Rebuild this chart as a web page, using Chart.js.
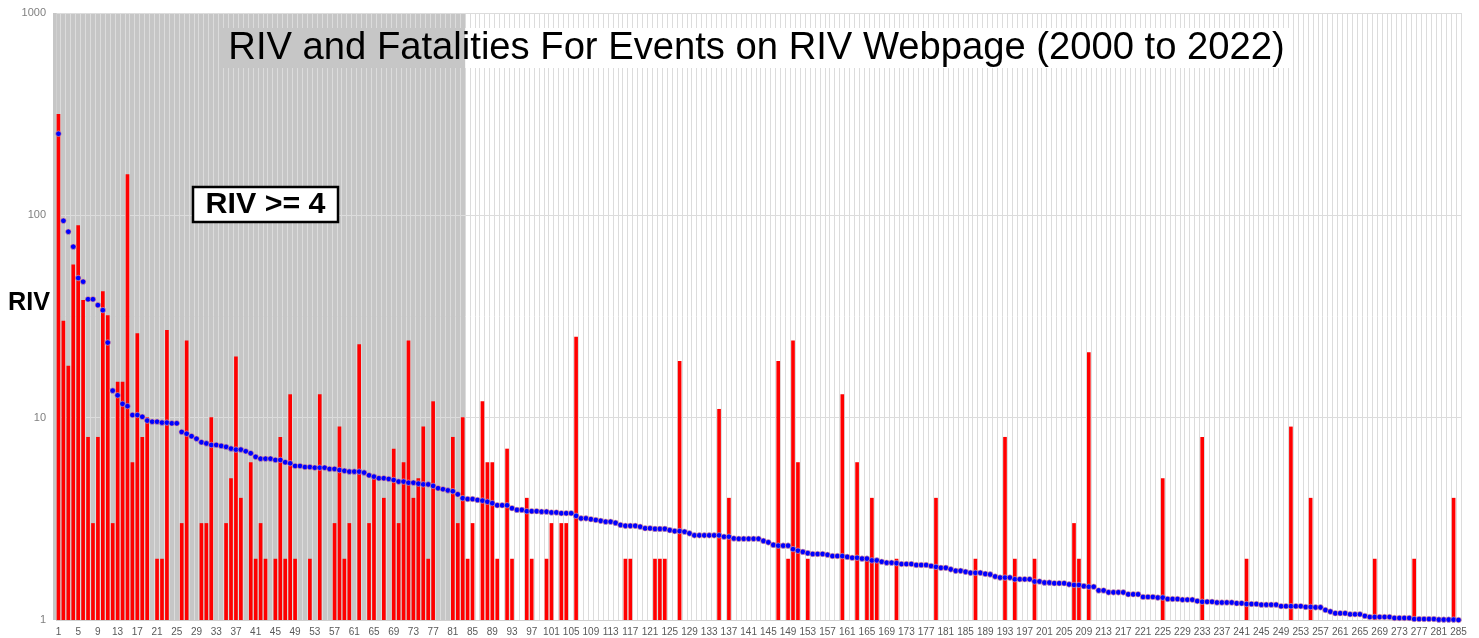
<!DOCTYPE html>
<html><head><meta charset="utf-8">
<script src="https://cdn.jsdelivr.net/npm/chart.js@4/dist/chart.umd.min.js"></script>
<style>html,body{margin:0;padding:0;background:#fff;overflow:hidden}</style>
</head><body>
<canvas id="c" width="1479" height="638" style="width:1479px;height:638px;display:block"></canvas>
<script>
const categories = Array.from({length: 285}, (_, i) => String(i + 1));
const xTickEvery = 4;
const yTickValues = [1, 10, 100, 1000];

const riv = [
253,94,83,70,49,47,38.5,38.5,36,34,
23.5,13.6,12.9,11.7,11.4,10.3,10.3,10.1,9.67,9.55,
9.55,9.45,9.45,9.38,9.38,8.5,8.33,8.1,7.87,7.56,
7.46,7.33,7.33,7.25,7.17,7.03,6.95,6.95,6.82,6.67,
6.4,6.27,6.27,6.27,6.18,6.18,6.02,5.95,5.77,5.77,
5.7,5.7,5.66,5.66,5.66,5.58,5.58,5.51,5.46,5.41,
5.41,5.41,5.35,5.19,5.11,5.02,5.02,4.98,4.92,4.83,
4.83,4.77,4.77,4.72,4.68,4.68,4.6,4.48,4.43,4.37,
4.33,4.18,4.0,3.96,3.96,3.92,3.89,3.84,3.78,3.69,
3.69,3.69,3.57,3.5,3.5,3.45,3.45,3.45,3.43,3.43,
3.4,3.4,3.37,3.37,3.37,3.27,3.18,3.18,3.15,3.12,
3.09,3.06,3.06,3.02,2.95,2.92,2.92,2.92,2.89,2.84,
2.84,2.82,2.82,2.82,2.78,2.75,2.75,2.73,2.68,2.62,
2.62,2.62,2.62,2.62,2.62,2.58,2.58,2.53,2.52,2.52,
2.52,2.52,2.52,2.46,2.42,2.35,2.33,2.33,2.33,2.24,
2.2,2.17,2.14,2.12,2.12,2.12,2.1,2.07,2.07,2.07,
2.05,2.03,2.03,2.01,2.01,1.97,1.97,1.94,1.92,1.92,
1.91,1.89,1.89,1.89,1.87,1.87,1.87,1.85,1.83,1.81,
1.81,1.78,1.75,1.75,1.73,1.71,1.71,1.71,1.69,1.68,
1.64,1.62,1.62,1.62,1.59,1.59,1.59,1.59,1.55,1.55,
1.53,1.53,1.52,1.52,1.52,1.5,1.49,1.49,1.47,1.46,
1.46,1.4,1.4,1.37,1.37,1.37,1.37,1.34,1.34,1.34,
1.3,1.3,1.3,1.29,1.29,1.27,1.27,1.27,1.26,1.26,
1.26,1.24,1.23,1.23,1.23,1.22,1.22,1.22,1.22,1.21,
1.21,1.2,1.2,1.2,1.19,1.19,1.19,1.19,1.17,1.17,
1.17,1.17,1.17,1.16,1.16,1.155,1.155,1.12,1.1,1.08,
1.08,1.08,1.067,1.067,1.067,1.047,1.035,1.035,1.035,1.035,
1.035,1.023,1.023,1.023,1.023,1.011,1.011,1.011,1.011,1.011,
1.004,1.004,1.004,1.004,1.0
];

const n = null;
const fatalities = [
316,30,18,57,89,38,8,3,8,42,
32,3,15,15,159,6,26,8,10,n,
2,2,27,n,n,3,24,n,n,3,
3,10,n,n,3,5,20,4,n,6,
2,3,2,n,2,8,2,13,2,n,
n,2,n,13,n,n,3,9,2,3,
n,23,n,3,5,n,4,n,7,3,
6,24,4,5,9,2,12,n,n,n,
8,3,10,2,3,n,12,6,6,2,
n,7,2,n,n,4,2,n,n,2,
3,n,3,3,n,25,n,n,n,n,
n,n,n,n,n,2,2,n,n,n,
n,2,2,2,n,n,19,n,n,n,
n,n,n,n,11,n,4,n,n,n,
n,n,n,n,n,n,19,n,2,24,
6,n,2,n,n,n,n,n,n,13,
n,n,6,n,2,4,2,n,n,n,
2,n,n,n,n,n,n,n,4,n,
n,n,n,n,n,n,2,n,n,n,
n,n,8,n,2,n,n,n,2,n,
n,n,n,n,n,n,3,2,n,21,
n,n,n,n,n,n,n,n,n,n,
n,n,n,n,5,n,n,n,n,n,
n,n,8,n,n,n,n,n,n,n,
n,2,n,n,n,n,n,n,n,n,
9,n,n,n,4,n,n,n,n,n,
n,n,n,n,n,n,n,2,n,n,
n,n,n,n,n,2,n,n,n,n,
n,n,n,4,n
];

const shadedLastCategory = 83;
const titleText = 'RIV and Fatalities For Events on RIV Webpage (2000 to 2022)';
const boxText = 'RIV >= 4';
const yAxisText = 'RIV';
const FONT = '"Liberation Sans", Arial, sans-serif';

function fitFont(ctx, text, weight, targetW, base) {
  ctx.font = weight + ' ' + base + 'px ' + FONT;
  const w = ctx.measureText(text).width;
  return base * targetW / w;
}

const decor = {
  id: 'decor',
  beforeDraw(chart) {
    const {ctx, chartArea: a, scales: {x}} = chart;
    ctx.save();
    ctx.fillStyle = '#ffffff';
    ctx.fillRect(0, 0, chart.width, chart.height);
    const half = (x.getPixelForValue(1) - x.getPixelForValue(0)) / 2;
    const right = x.getPixelForValue(shadedLastCategory - 1) + half;
    ctx.fillStyle = '#c6c6c6';
    ctx.fillRect(a.left - 3, a.top, right - (a.left - 3), a.bottom - a.top);
    ctx.restore();
  },
  beforeDatasetsDraw(chart) {
    const {ctx, scales: {x}} = chart;
    const half = (x.getPixelForValue(1) - x.getPixelForValue(0)) / 2;
    const right = x.getPixelForValue(shadedLastCategory - 1) + half;
    ctx.save();
    ctx.fillStyle = '#ffffff';
    ctx.fillRect(222, 28, 1292 - 222, 40);
    ctx.fillStyle = '#c6c6c6';
    ctx.fillRect(222, 28, right - 222, 40);
    ctx.restore();
  },
  afterDraw(chart) {
    const ctx = chart.ctx;
    ctx.save();
    let fs = fitFont(ctx, titleText, 'normal', 1057, 35);
    ctx.font = 'normal ' + fs + 'px ' + FONT;
    ctx.fillStyle = '#000';
    ctx.textAlign = 'center';
    ctx.textBaseline = 'middle';
    ctx.fillText(titleText, 756.5, 48);
    ctx.fillStyle = '#fff';
    ctx.fillRect(193, 187, 145, 35);
    ctx.strokeStyle = '#000';
    ctx.lineWidth = 2.5;
    ctx.strokeRect(193, 187, 145, 35);
    fs = fitFont(ctx, boxText, 'bold', 120, 24);
    ctx.font = 'bold ' + fs + 'px ' + FONT;
    ctx.fillStyle = '#000';
    ctx.fillText(boxText, 265.5, 205);
    fs = fitFont(ctx, yAxisText, 'bold', 42, 22);
    ctx.font = 'bold ' + fs + 'px ' + FONT;
    ctx.textAlign = 'left';
    ctx.fillText(yAxisText, 8, 303);
    ctx.restore();
  }
};

new Chart(document.getElementById('c'), {
  type: 'bar',
  data: {
    labels: categories,
    datasets: [
      {
        type: 'line',
        label: 'RIV',
        data: riv,
        showLine: false,
        pointRadius: 2.8,
        pointBackgroundColor: '#0000ff',
        pointBorderColor: 'rgba(255,170,140,0.75)',
        pointBorderWidth: 0.8,
        clip: false,
        order: 0
      },
      {
        type: 'bar',
        label: 'Fatalities',
        data: fatalities,
        backgroundColor: '#ff0000',
        borderWidth: 0,
        barThickness: 3,
        order: 1
      }
    ]
  },
  options: {
    responsive: false,
    animation: false,
    devicePixelRatio: 1,
    layout: {padding: {top: 13, right: 18, left: 0, bottom: 0}},
    plugins: {legend: {display: false}, title: {display: false}, tooltip: {enabled: false}},
    scales: {
      x: {
        grid: {color: '#dcdcdc', drawTicks: false, offset: true},
        border: {color: '#d0d0d0'},
        ticks: {
          autoSkip: false, maxRotation: 0, minRotation: 0, padding: 6,
          color: '#595959', font: {size: 10, family: FONT},
          callback: (v, i) => (i % xTickEvery === 0 ? categories[i] : '')
        },
        afterFit: s => { s.height = 18; s.paddingLeft = 0; s.paddingRight = 0; }
      },
      y: {
        type: 'logarithmic',
        min: 1, max: 1000,
        afterBuildTicks: s => { s.ticks = yTickValues.map(v => ({value: v, major: true})); },
        grid: {color: '#dcdcdc', drawTicks: false},
        border: {color: '#d0d0d0'},
        ticks: {
          padding: 10, color: '#808080', font: {size: 11, family: FONT},
          callback: v => String(v)
        },
        afterFit: s => { s.width = 56; s.paddingTop = 0; s.paddingBottom = 0; }
      }
    }
  },
  plugins: [decor]
});
</script>
</body></html>
